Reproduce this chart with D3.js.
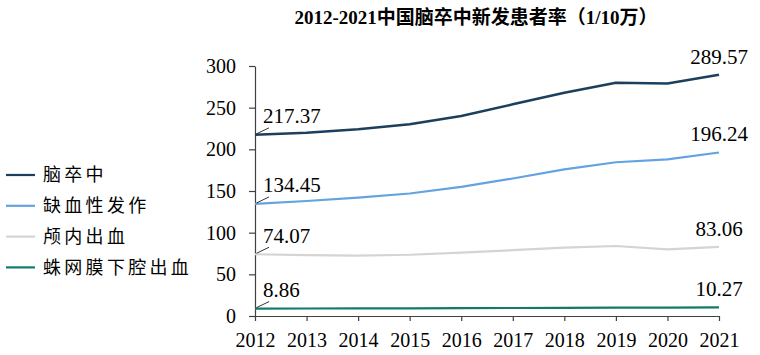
<!DOCTYPE html>
<html>
<head>
<meta charset="utf-8">
<script src="https://cdn.jsdelivr.net/npm/d3@7"></script>
<style>
  body { margin: 0; background: #fff; }
  .axis path, .axis line { stroke: #404040; stroke-width: 1.2px; }
  .axis text { font-family: "Liberation Serif", "Times New Roman", serif; font-size: 20px; fill: #000; }
</style>
</head>
<body>
<div id="chart"></div>
<script>
(function () {
    const years = [2012, 2013, 2014, 2015, 2016, 2017, 2018, 2019, 2020, 2021];

    const stroke = [217.37, 220, 224, 230, 240, 254, 268, 280, 279, 289.57];
    const ischemic = [134.45, 138, 142, 147, 155, 165, 176, 184.5, 188, 196.24];
    const intracerebral = [74.07, 73, 72.5, 73.5, 76, 79, 82, 84, 80, 83.06];
    const subarachnoid = [8.86, 9.0, 9.1, 9.2, 9.4, 9.6, 9.8, 10.0, 10.1, 10.27];

    const seriesNames = ["脑卒中", "缺血性发作", "颅内出血", "蛛网膜下腔出血"];
    const seriesColors = ["#1c3f5e", "#62a3e0", "#d4d4d4", "#127a6a"];
    const yTicks = [0, 50, 100, 150, 200, 250, 300];

    const series = [stroke, ischemic, intracerebral, subarachnoid];

    const W = 760, H = 355;
    const margin = { top: 66, right: 41, bottom: 39, left: 255 };
    const width = W - margin.left - margin.right,
        height = H - margin.top - margin.bottom;

    const root = d3.select("#chart")
        .append("svg")
        .attr("width", W)
        .attr("height", H);

    // title
    root.append("text")
        .attr("x", 476)
        .attr("y", 24)
        .attr("text-anchor", "middle")
        .style("font-family", "'Liberation Serif', 'Noto Sans CJK SC', serif")
        .style("font-weight", "bold")
        .style("font-size", "19px")
        .text("2012-2021中国脑卒中新发患者率（1/10万）");

    const svg = root.append("g")
        .attr("transform", "translate(" + margin.left + "," + margin.top + ")");

    const x = d3.scalePoint().domain(years).range([0, width]);
    const y = d3.scaleLinear().domain([0, 300]).range([height, 0]);

    svg.append("g")
        .attr("class", "axis")
        .call(d3.axisLeft(y).tickValues(yTicks).tickSize(6).tickPadding(13).tickSizeOuter(0));

    svg.append("g")
        .attr("class", "axis")
        .attr("transform", "translate(0," + height + ")")
        .call(d3.axisBottom(x).tickSize(5).tickPadding(8).tickSizeOuter(0))
        .selectAll("text").attr("dy", "0.9em");

    const line = d3.line()
        .x((d, i) => x(years[i]))
        .y(d => y(d));

    // draw back to front so the dark line is on top
    for (let k = series.length - 1; k >= 0; k--) {
        svg.append("path")
            .datum(series[k])
            .attr("fill", "none")
            .attr("stroke", seriesColors[k])
            .attr("stroke-width", k === 0 ? 2.5 : 2.2)
            .attr("stroke-linejoin", "round")
            .attr("d", line);
    }

    const labelFont = "'Liberation Serif', 'Times New Roman', serif";

    series.forEach(function (vals, k) {
        const first = vals[0], last = vals[vals.length - 1];
        const x0 = x(years[0]), y0 = y(first);
        // leader line for first value
        svg.append("line")
            .attr("x1", x0 + 1.5).attr("y1", y0 - 1)
            .attr("x2", x0 + 14).attr("y2", y0 - 7)
            .attr("stroke", "#000")
            .attr("stroke-width", 0.8);
        svg.append("text")
            .attr("x", x0 + 8)
            .attr("y", y0 - 11.5)
            .style("font-family", labelFont)
            .style("font-size", "21px")
            .text(first.toFixed(2));

        const x1 = x(years[years.length - 1]), y1 = y(last);
        svg.append("text")
            .attr("x", x1)
            .attr("y", y1 - 11)
            .attr("text-anchor", "middle")
            .style("font-family", labelFont)
            .style("font-size", "21px")
            .text(last.toFixed(2));
    });

    // legend
    const legend = root.append("g").attr("transform", "translate(6,175)");
    seriesNames.forEach(function (name, i) {
        const g = legend.append("g").attr("transform", "translate(0," + (i * 30.8) + ")");
        g.append("line")
            .attr("x1", 0).attr("x2", 29)
            .attr("stroke", seriesColors[i])
            .attr("stroke-width", 2.2);
        g.append("text")
            .attr("x", 37)
            .attr("y", 0)
            .attr("dy", "0.36em")
            .style("font-family", "'Noto Sans CJK SC', sans-serif")
            .style("font-size", "18px")
            .style("letter-spacing", "3.3px")
            .text(name);
    });
})();
</script>
</body>
</html>
